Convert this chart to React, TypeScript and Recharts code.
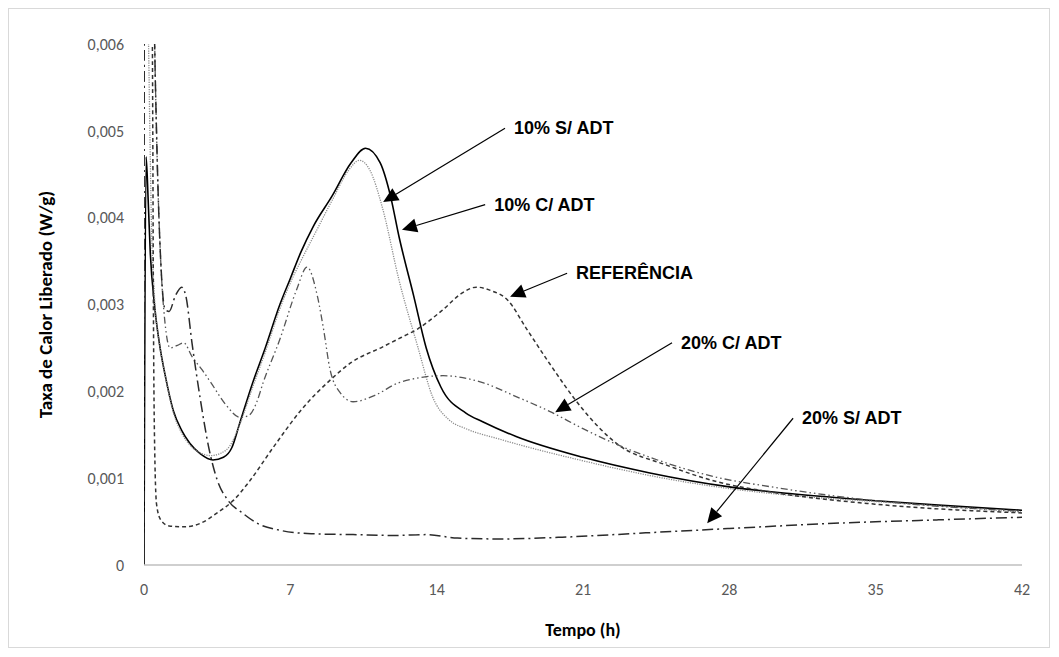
import { LineChart, Line, XAxis, YAxis, ReferenceLine, Label } from "recharts";

type Pt = [number, number];

const xTicks = [0, 7, 14, 21, 28, 35, 42];
const yTicks = [0, 0.001, 0.002, 0.003, 0.004, 0.005, 0.006];

// tempo (h), taxa (W/g)
const dezSemAdt: Pt[] = [
  [0, 0], [0.1, 0.0047], [0.2, 0.0042], [0.3, 0.0036], [0.5, 0.003], [0.77, 0.0025], [1.0, 0.0022],
  [1.4, 0.00178], [1.8, 0.00155], [2.2, 0.0014], [2.7, 0.00128], [3.3, 0.00121], [3.8, 0.00124],
  [4.2, 0.00135], [4.6, 0.00165], [5.2, 0.0021], [5.8, 0.0025], [6.5, 0.003], [7.0, 0.0033],
  [7.5, 0.0036], [8.1, 0.0039], [9.0, 0.00425], [9.9, 0.00463], [10.6, 0.0048], [11.3, 0.00463],
  [11.8, 0.00424], [12.2, 0.00378], [12.9, 0.0031], [13.5, 0.0025], [14.2, 0.00205], [15.4, 0.00175],
  [16.2, 0.00165], [17.8, 0.00148], [21, 0.00124], [24.2, 0.00106], [28, 0.0009], [31, 0.00082],
  [35, 0.00074], [38, 0.00069], [42, 0.00063],
];

const dezComAdt: Pt[] = [
  [0.02, 0.007], [0.2, 0.0062], [0.28, 0.005], [0.35, 0.004], [0.5, 0.0031], [0.77, 0.0025],
  [1.0, 0.0022], [1.4, 0.00176], [1.8, 0.00152], [2.2, 0.00138], [2.7, 0.00129], [3.2, 0.00126],
  [3.7, 0.00129], [4.1, 0.00137], [4.6, 0.00163], [5.2, 0.00205], [5.8, 0.00245], [6.5, 0.00295],
  [7.0, 0.00325], [7.5, 0.0035], [8.1, 0.00378], [9.0, 0.0042], [9.8, 0.00455], [10.3, 0.00466],
  [10.8, 0.00455], [11.4, 0.00412], [12.2, 0.00328], [13.1, 0.00251], [13.8, 0.00194], [14.6, 0.00167],
  [15.4, 0.00157], [17, 0.00145], [21, 0.0012], [24.2, 0.00103], [28, 0.00088], [31, 0.0008],
  [35, 0.00073], [38, 0.00068], [42, 0.00061],
];

const referencia: Pt[] = [
  [0.02, 0.007], [0.38, 0.0066], [0.42, 0.005], [0.45, 0.003], [0.5, 0.0015], [0.6, 0.0007],
  [0.8, 0.00052], [1.2, 0.00045], [1.9, 0.00044], [2.7, 0.00048], [3.5, 0.0006], [4.3, 0.00075],
  [5.0, 0.00095], [6.2, 0.00136], [7.5, 0.00178], [9.0, 0.00215], [9.9, 0.00233], [11.4, 0.00251],
  [12.3, 0.00262], [13.1, 0.00272], [14.3, 0.00294], [15.2, 0.00313], [15.9, 0.0032], [16.6, 0.00316],
  [17.4, 0.00305], [18.3, 0.00272], [19.4, 0.00232], [21, 0.00179], [22.6, 0.0014], [25, 0.00115],
  [27.4, 0.00096], [30, 0.00084], [35, 0.0007], [42, 0.0006],
];

const vinteComAdt: Pt[] = [
  [0.02, 0.007], [0.45, 0.0066], [0.55, 0.0055], [0.65, 0.0045], [0.8, 0.0035], [1.0, 0.0028],
  [1.25, 0.0025], [1.6, 0.00253], [1.9, 0.00256], [2.3, 0.0024], [2.8, 0.00224], [3.2, 0.0021],
  [3.9, 0.00185], [4.6, 0.0017], [5.0, 0.00172], [5.4, 0.00188], [5.7, 0.0021], [6.5, 0.0026],
  [7.3, 0.00317], [7.8, 0.00343], [8.3, 0.00309], [8.6, 0.0027], [8.9, 0.00225], [9.4, 0.00198],
  [10.0, 0.00188], [11.1, 0.00196], [12.2, 0.0021], [14.3, 0.00218], [16.2, 0.0021], [17.8, 0.00194],
  [19.4, 0.00177], [21, 0.00157], [22.5, 0.0014], [24.2, 0.00124], [27.4, 0.00101], [30, 0.0009],
  [35, 0.00074], [42, 0.00062],
];

const vinteSemAdt: Pt[] = [
  [0, 0], [0.02, 0.0075], [0.45, 0.0066], [0.55, 0.0055], [0.65, 0.0045], [0.8, 0.0035],
  [1.0, 0.00295], [1.2, 0.00292], [1.5, 0.0031], [1.8, 0.0032], [2.0, 0.0031], [2.3, 0.00255],
  [2.7, 0.0019], [3.1, 0.00135], [3.5, 0.00098], [4.0, 0.00075], [4.7, 0.0006], [5.5, 0.00047],
  [6.5, 0.0004], [8, 0.00036], [10, 0.00035], [12, 0.00034], [13.5, 0.00035], [15, 0.00031],
  [17, 0.0003], [20, 0.00032], [24, 0.00037], [28, 0.00042], [33, 0.00048], [38, 0.00052], [42, 0.00055],
];

// label text, tail (t, v), arrow tip (t, v)
const annotations: { text: string; tail: Pt; tip: Pt }[] = [
  { text: "10% S/ ADT", tail: [17.27, 0.00503], tip: [11.44, 0.00418] },
  { text: "10% C/ ADT", tail: [16.32, 0.00415], tip: [12.34, 0.00386] },
  { text: "REFERÊNCIA", tail: [20.24, 0.00336], tip: [17.51, 0.00309] },
  { text: "20% C/ ADT", tail: [25.26, 0.00256], tip: [19.67, 0.00176] },
  { text: "20% S/ ADT", tail: [31.05, 0.00169], tip: [26.94, 0.00048] },
];

const series = [
  { name: "10% S/ ADT", pts: dezSemAdt, stroke: "#000000", width: 1.6, dash: undefined },
  { name: "10% C/ ADT", pts: dezComAdt, stroke: "#8c8c8c", width: 1.3, dash: "1.2 1.2" },
  { name: "REFERÊNCIA", pts: referencia, stroke: "#333333", width: 1.5, dash: "4 3" },
  { name: "20% C/ ADT", pts: vinteComAdt, stroke: "#555555", width: 1.3, dash: "7 3 1.5 3 1.5 3" },
  { name: "20% S/ ADT", pts: vinteSemAdt, stroke: "#2a2a2a", width: 1.5, dash: "11 4 2 4" },
];

const tickFont = { fill: "#595959", fontSize: 16, fontFamily: "Carlito, 'Liberation Sans Narrow', 'Open Sans', sans-serif" };
const titleFont = "Carlito, 'Liberation Sans Narrow', 'Liberation Sans', sans-serif";
const fmtY = (v: number) => (v === 0 ? "0" : v.toFixed(3).replace(".", ","));

function arrow(text: string) {
  return (p: any) => {
    const { x1, y1, x2, y2 } = p;
    const dx = x2 - x1;
    const dy = y2 - y1;
    const len = Math.hypot(dx, dy) || 1;
    const ux = dx / len;
    const uy = dy / len;
    const head = 15;
    const half = 7;
    const bx = x2 - ux * head;
    const by = y2 - uy * head;
    return (
      <g>
        <line x1={x1} y1={y1} x2={bx} y2={by} stroke="#000" strokeWidth={1.2} />
        <polygon points={`${x2},${y2} ${bx - uy * half},${by + ux * half} ${bx + uy * half},${by - ux * half}`} fill="#000" />
        <text x={x1 + 9} y={y1} dominantBaseline="central" fontFamily="'Liberation Sans', Arial, sans-serif" fontWeight="bold" fontSize={18} fill="#000">
          {text}
        </text>
      </g>
    );
  };
}

export default function App() {
  return (
    <div style={{ width: 1040, height: 638, border: "1px solid #d9d9d9", background: "#fff" }}>
      <LineChart width={1040} height={638} margin={{ top: 35, right: 27, left: 0, bottom: 0 }}>
        <XAxis
          dataKey="t"
          type="number"
          domain={[0, 42]}
          ticks={xTicks}
          allowDataOverflow
          tickLine={false}
          tickSize={0}
          tickMargin={19}
          axisLine={{ stroke: "#bfbfbf", strokeWidth: 1.5 }}
          tick={tickFont}
          height={82}
        >
          <Label
            content={({ viewBox }: any) => (
              <text x={viewBox.x + viewBox.width / 2} y={viewBox.y + 65} textAnchor="middle" dominantBaseline="central" fontFamily={titleFont} fontWeight="bold" fontSize={18} fill="#000">
                Tempo (h)
              </text>
            )}
          />
        </XAxis>
        <YAxis
          type="number"
          domain={[0, 0.006]}
          ticks={yTicks}
          allowDataOverflow
          axisLine={false}
          tickLine={false}
          tickSize={0}
          tickMargin={20}
          tickFormatter={fmtY}
          tick={tickFont}
          width={135}
        >
          <Label
            content={({ viewBox }: any) => {
              const cx = viewBox.x + 36;
              const cy = viewBox.y + viewBox.height / 2;
              return (
                <text x={cx} y={cy} transform={`rotate(-90, ${cx}, ${cy})`} textAnchor="middle" dominantBaseline="central" fontFamily={titleFont} fontWeight="bold" fontSize={19} fill="#000">
                  Taxa de Calor Liberado (W/g)
                </text>
              );
            }}
          />
        </YAxis>
        {series.map((s) => (
          <Line
            key={s.name}
            name={s.name}
            data={s.pts.map(([t, v]) => ({ t, v }))}
            dataKey="v"
            type="monotone"
            stroke={s.stroke}
            strokeWidth={s.width}
            strokeDasharray={s.dash}
            dot={false}
            activeDot={false}
            isAnimationActive={false}
          />
        ))}
        {annotations.map((a) => (
          <ReferenceLine
            key={a.text}
            segment={[{ x: a.tail[0], y: a.tail[1] }, { x: a.tip[0], y: a.tip[1] }]}
            ifOverflow="visible"
            shape={arrow(a.text)}
          />
        ))}
      </LineChart>
    </div>
  );
}
